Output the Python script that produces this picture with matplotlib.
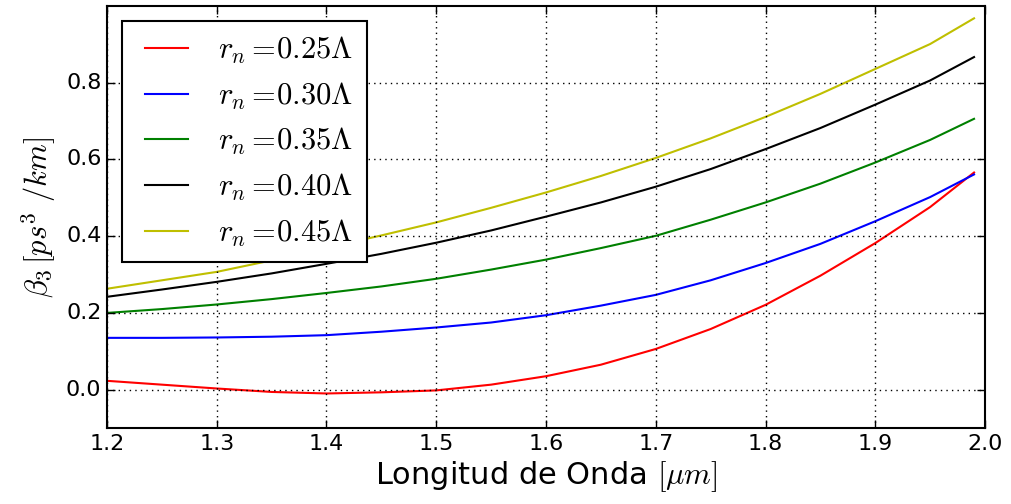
import matplotlib
matplotlib.use("Agg")
import matplotlib.pyplot as plt

plt.style.use("classic")
plt.rcParams["mathtext.fontset"] = "cm"
plt.rcParams["font.family"] = ["DejaVu Sans"]

# Wavelength samples (um)
wavelength = [1.20, 1.25, 1.30, 1.35, 1.40, 1.45, 1.50, 1.55, 1.60,
              1.65, 1.70, 1.75, 1.80, 1.85, 1.90, 1.95, 1.99]

# Third-order dispersion beta_3 (ps^3/km) for each hole radius
beta3_025 = [0.023, 0.013, 0.003, -0.006, -0.010, -0.007, -0.002, 0.013, 0.035,
             0.065, 0.106, 0.158, 0.221, 0.297, 0.382, 0.476, 0.566]
beta3_030 = [0.135, 0.135, 0.136, 0.138, 0.142, 0.151, 0.162, 0.175, 0.194,
             0.219, 0.247, 0.285, 0.330, 0.380, 0.439, 0.502, 0.561]
beta3_035 = [0.200, 0.210, 0.222, 0.236, 0.252, 0.269, 0.289, 0.313, 0.339,
             0.369, 0.401, 0.443, 0.488, 0.537, 0.592, 0.651, 0.706]
beta3_040 = [0.242, 0.261, 0.281, 0.303, 0.328, 0.354, 0.383, 0.415, 0.451,
             0.488, 0.529, 0.575, 0.627, 0.682, 0.743, 0.806, 0.867]
beta3_045 = [0.263, 0.285, 0.307, 0.337, 0.370, 0.402, 0.436, 0.474, 0.514,
             0.557, 0.604, 0.655, 0.711, 0.771, 0.836, 0.901, 0.968]

series = [beta3_025, beta3_030, beta3_035, beta3_040, beta3_045]
labels = [r"$r_n=\!0.25\Lambda$", r"$r_n=\!0.30\Lambda$", r"$r_n=\!0.35\Lambda$",
          r"$r_n=\!0.40\Lambda$", r"$r_n=\!0.45\Lambda$"]
colors = ["r", "b", "g", "k", "y"]

fig = plt.figure(figsize=(10.11, 5.04), dpi=100, facecolor="white")
ax = fig.add_axes([0.1058, 0.1508, 0.8685, 0.8372])

for vals, lab, col in zip(series, labels, colors):
    ax.plot(wavelength, vals, color=col, lw=1.5, label=lab)

ax.set_xlim(1.2, 2.0)
ax.set_ylim(-0.1, 1.0)
ax.set_xticks([1.2, 1.3, 1.4, 1.5, 1.6, 1.7, 1.8, 1.9, 2.0])
ax.set_yticks([0.0, 0.2, 0.4, 0.6, 0.8])
ax.tick_params(labelsize=16, direction="in", length=6, width=1)
ax.grid(True, color="k", linestyle=":", linewidth=1)
for sp in ax.spines.values():
    sp.set_linewidth(1.5)

ax.set_xlabel(r"Longitud de Onda $[\mu m]$", fontsize=22, labelpad=4)
ax.set_ylabel(r"$\beta_3\,[ps^3\ /km]$", fontsize=22, labelpad=6)

leg = ax.legend(loc="upper left", fontsize=22, handlelength=2.0,
                handletextpad=0.7, labelspacing=0.47, borderpad=0.45,
                borderaxespad=0.5, fancybox=False)
leg.get_frame().set_linewidth(1.5)
leg.get_frame().set_edgecolor("k")

fig.savefig("out.png", dpi=100, facecolor="white")
